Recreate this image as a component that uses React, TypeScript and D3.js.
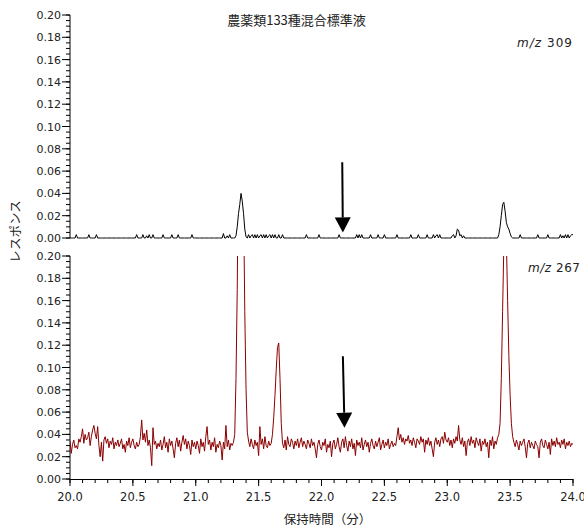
import React from "react";
import * as d3 from "d3";

// retention time axis
const T_START = 20.0;
const T_STEP = 0.01;

// m/z 309 response (×0.001), one value per 0.01 min from 20.00 to 24.00
const mz309: number[] = [
  0,0,0,0,0,3,0,0,0,0,
  0,0,0,0,0,3,0,0,0,0,
  0,3,0,0,0,0,0,0,0,0,
  0,0,0,0,0,0,0,0,0,0,
  0,0,0,0,0,0,0,0,0,0,
  0,0,0,3,0,0,0,0,3,0,
  0,2,0,3,0,0,3,0,0,0,
  0,0,0,0,3,0,0,0,0,0,
  0,3,0,0,0,0,3,0,0,0,
  0,0,0,0,0,0,0,3,0,0,
  0,0,0,0,0,0,0,0,0,0,
  0,0,0,0,0,0,0,0,0,0,
  0,0,4,0,0,2,0,3,0,0,
  0,0,2,10,22,30,40,33,22,8,
  1,0,3,0,2,3,0,3,0,3,
  0,2,3,0,3,0,3,0,2,3,
  0,3,0,3,0,0,3,0,0,3,
  0,0,0,0,0,0,0,0,0,0,
  0,0,0,0,0,0,0,0,3,0,
  0,0,0,0,0,0,0,0,3,0,
  0,0,0,0,0,0,0,0,0,0,
  0,0,0,0,3,0,0,0,0,0,
  0,0,0,0,0,0,0,0,3,0,
  3,0,3,0,0,0,0,0,0,3,
  0,0,0,0,0,3,0,0,0,0,
  3,0,0,0,0,0,0,0,0,0,
  3,0,0,0,0,0,0,0,0,0,
  0,3,0,0,0,0,0,3,0,0,
  0,0,0,0,3,0,0,0,0,3,
  0,2,3,0,3,0,0,0,0,0,
  0,0,0,0,2,3,0,2,8,7,
  2,3,0,2,0,0,0,0,0,0,
  0,0,0,0,0,0,0,0,0,0,
  0,0,0,0,0,0,0,0,0,0,
  0,3,10,20,30,32,24,14,10,8,
  4,1,0,0,0,0,0,0,3,0,
  0,0,0,0,0,0,0,0,0,0,
  0,0,3,0,0,0,0,0,0,0,
  3,0,0,0,0,0,0,0,0,0,
  3,0,2,0,3,0,3,0,2,3,
  3,
];

// m/z 267 response (×0.001), one value per 0.01 min from 20.00 to 24.00
const mz267: number[] = [
  34,23,31,35,28,30,27,36,33,38,
  45,32,40,35,37,42,30,38,44,48,
  41,36,47,30,20,33,16,35,38,32,
  36,28,34,31,37,27,33,30,35,29,
  32,36,27,31,24,34,30,37,28,33,
  36,30,27,33,29,31,38,53,35,41,
  33,44,30,35,28,12,46,31,34,27,
  32,29,35,26,31,38,28,33,24,36,
  30,34,27,19,32,37,29,35,25,33,
  39,31,36,27,34,30,22,35,29,33,
  27,34,30,23,36,29,33,25,38,47,
  31,35,26,33,29,37,24,31,28,34,
  30,17,33,27,48,29,35,26,32,30,
  33,40,90,170,300,420,450,380,250,150,
  80,42,34,29,36,31,27,35,30,33,
  21,47,31,36,27,38,30,28,34,30,
  32,40,55,75,98,118,122,90,50,32,
  28,35,26,38,31,29,36,33,27,34,
  30,36,28,33,37,29,34,31,27,35,
  32,28,36,30,33,27,19,31,35,29,
  26,33,30,36,24,31,28,34,20,32,
  35,27,31,37,29,24,33,36,28,38,
  30,25,34,29,36,27,32,21,35,30,
  33,28,37,26,31,35,29,33,24,32,
  36,30,27,34,29,33,37,26,31,35,
  28,33,30,36,27,31,34,29,32,30,
  38,46,35,40,33,37,31,36,34,39,
  32,35,30,37,33,28,36,34,31,38,
  33,36,24,35,31,37,30,34,27,20,
  33,37,31,35,29,36,38,32,42,35,
  33,37,30,35,28,36,32,38,34,48,
  35,31,37,29,34,21,33,36,30,38,
  32,35,28,37,33,30,36,25,34,31,
  36,29,33,19,35,30,38,27,34,31,
  37,40,50,90,150,210,240,215,160,110,
  75,50,38,33,29,35,31,26,34,30,
  33,36,29,19,32,35,28,33,30,27,
  34,31,29,19,33,36,30,28,35,31,
  27,33,22,36,30,34,29,37,31,33,
  28,35,31,36,27,33,30,34,29,32,
  31,
];

const title = "農薬類133種混合標準液";
const yLabel = "レスポンス";
const xLabel = "保持時間（分）";
const panelLabels = ["309", "267"];
// arrow annotations: [time at tail, response at tail, time at tip, response at tip]
const arrowTop = [22.165, 0.068, 22.17, 0.005];
const arrowBottom = [22.17, 0.11, 22.183, 0.046];

const W = 584;
const H = 529;
const FONT = "'DejaVu Sans', Verdana, sans-serif";
const CJK = "'Noto Sans CJK JP', sans-serif";

export default function App() {
  const x = d3.scaleLinear().domain([20, 24]).range([70, 573]);
  const yTop = d3.scaleLinear().domain([0, 0.2]).range([238, 15]);
  const yBot = d3.scaleLinear().domain([0, 0.2]).range([479, 256]);

  const pts = (arr: number[]) =>
    arr.map((v, i) => [T_START + i * T_STEP, v / 1000] as [number, number]);

  const lineTop = d3
    .line<[number, number]>()
    .x((d) => x(d[0]))
    .y((d) => yTop(d[1]));
  const lineBot = d3
    .line<[number, number]>()
    .x((d) => x(d[0]))
    .y((d) => yBot(d[1]));

  const yMajor = yTop.ticks(10);
  const yMinor = yTop.ticks(40);
  const xMajor = x.ticks(8);
  const xMinor = x.ticks(40);
  const fy = d3.format(".2f");
  const fx = d3.format(".1f");

  const yAxis = (y: d3.ScaleLinear<number, number>, key: string) => (
    <g key={key}>
      <line x1={70} x2={70} y1={y(0.2)} y2={y(0)} stroke="#000" strokeWidth={1} />
      {yMinor.map((t) => (
        <line key={"m" + t} x1={66} x2={70} y1={y(t)} y2={y(t)} stroke="#000" strokeWidth={1} />
      ))}
      {yMajor.map((t) => (
        <g key={"M" + t}>
          <line x1={62} x2={70} y1={y(t)} y2={y(t)} stroke="#000" strokeWidth={1} />
          <text x={61} y={y(t) + 4} textAnchor="end" fontSize={11} fontFamily={FONT} fill="#222">
            {fy(t)}
          </text>
        </g>
      ))}
    </g>
  );

  const arrow = (a: number[], y: d3.ScaleLinear<number, number>, key: string) => {
    const x0 = x(a[0]);
    const y0 = y(a[1]);
    const x1 = x(a[2]);
    const y1 = y(a[3]);
    const headLen = 15;
    const headW = 8;
    const ang = Math.atan2(y1 - y0, x1 - x0);
    const bx = x1 - headLen * Math.cos(ang);
    const by = y1 - headLen * Math.sin(ang);
    const px = -Math.sin(ang);
    const py = Math.cos(ang);
    return (
      <g key={key}>
        <line x1={x0} y1={y0} x2={bx} y2={by} stroke="#000" strokeWidth={2} />
        <polygon
          points={`${x1},${y1} ${bx + px * headW},${by + py * headW} ${bx - px * headW},${by - py * headW}`}
          fill="#000"
        />
      </g>
    );
  };

  return (
    <svg
      width={W}
      height={H}
      style={{ position: "absolute", left: 0, top: 0, background: "#fff" }}
    >
      <defs>
        <clipPath id="clipBot">
          <rect x={70} y={256} width={504} height={224} />
        </clipPath>
      </defs>
      <rect x={0} y={0} width={W} height={H} fill="#fff" />

      <text x={296.5} y={25} textAnchor="middle" fontSize={13} fontFamily={CJK} fill="#222">
        {title}
      </text>

      {yAxis(yTop, "top")}
      {yAxis(yBot, "bot")}

      <path d={lineTop(pts(mz309)) || ""} fill="none" stroke="#000" strokeWidth={1} />
      <path
        d={lineBot(pts(mz267)) || ""}
        fill="none"
        stroke="#8b0000"
        strokeWidth={1}
        clipPath="url(#clipBot)"
      />

      {/* x axis */}
      <line x1={70} x2={573} y1={479.5} y2={479.5} stroke="#000" strokeWidth={1} />
      {xMinor.map((t) => (
        <line key={"xm" + t} x1={x(t)} x2={x(t)} y1={479} y2={483} stroke="#000" strokeWidth={1} />
      ))}
      {xMajor.map((t) => (
        <g key={"xM" + t}>
          <line x1={x(t)} x2={x(t)} y1={479} y2={486} stroke="#000" strokeWidth={1} />
          <text x={x(t)} y={501} textAnchor="middle" fontSize={11.5} fontFamily={FONT} fill="#222">
            {fx(t)}
          </text>
        </g>
      ))}

      <text x={327.5} y={524} textAnchor="middle" fontSize={12.5} fontFamily={CJK} fill="#222">
        {xLabel}
      </text>
      <text
        transform="translate(19.5,231.5) rotate(-90)"
        textAnchor="middle"
        fontSize={12.5}
        fontFamily={CJK}
        fill="#222"
      >
        {yLabel}
      </text>

      <text x={517} y={47} fontSize={12} fontFamily={FONT} fill="#222" textLength={55} lengthAdjust="spacing">
        <tspan fontStyle="italic">m/z</tspan>
        {" " + panelLabels[0]}
      </text>
      <text x={528} y={272} fontSize={12} fontFamily={FONT} fill="#222" textLength={52} lengthAdjust="spacing">
        <tspan fontStyle="italic">m/z</tspan>
        {" " + panelLabels[1]}
      </text>

      {arrow(arrowTop, yTop, "a1")}
      {arrow(arrowBottom, yBot, "a2")}
    </svg>
  );
}
